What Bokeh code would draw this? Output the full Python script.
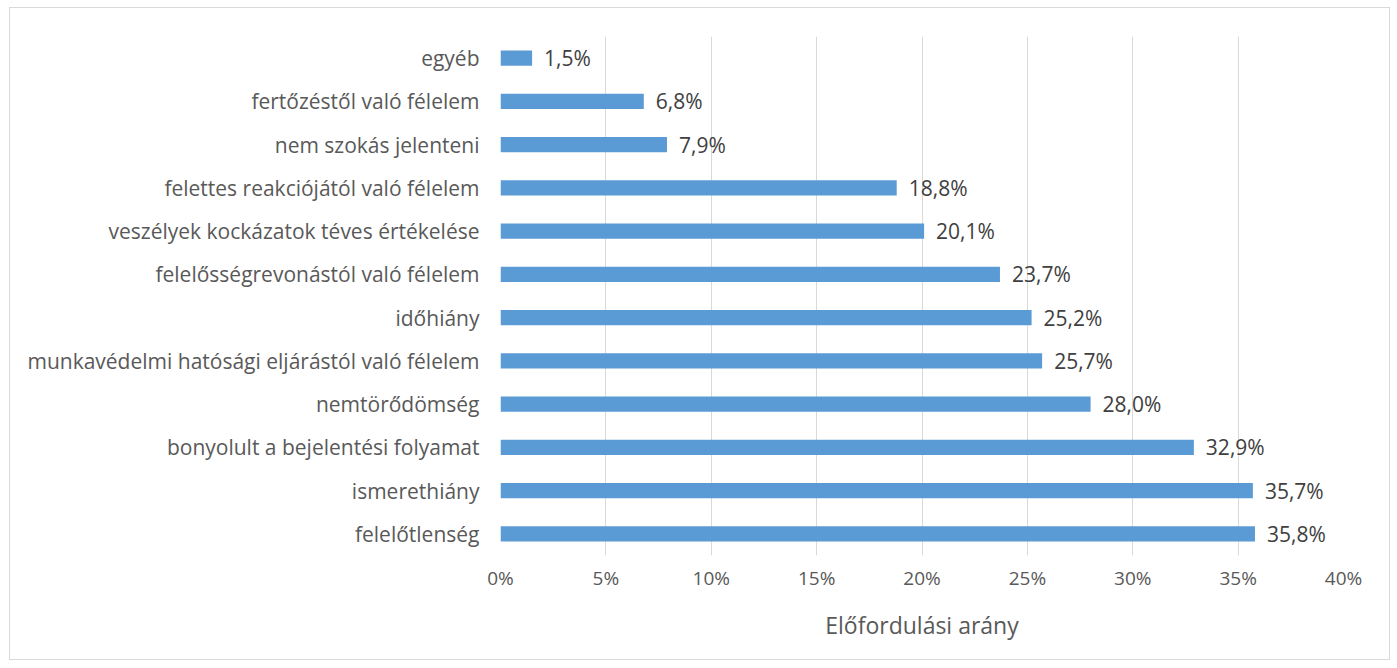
from bokeh.plotting import figure
from bokeh.models import FactorRange, FixedTicker, PrintfTickFormatter, ColumnDataSource, Range1d
from bokeh.core.properties import value
from bokeh.embed import file_html
from bokeh.resources import INLINE

categories = [
    "egyéb",
    "fertőzéstől való félelem",
    "nem szokás jelenteni",
    "felettes reakciójától való félelem",
    "veszélyek kockázatok téves értékelése",
    "felelősségrevonástól való félelem",
    "időhiány",
    "munkavédelmi hatósági eljárástól való félelem",
    "nemtörődömség",
    "bonyolult a bejelentési folyamat",
    "ismerethiány",
    "felelőtlenség",
]
values = [1.5, 6.8, 7.9, 18.8, 20.1, 23.7, 25.2, 25.7, 28.0, 32.9, 35.7, 35.8]
x_ticks = [0, 5, 10, 15, 20, 25, 30, 35, 40]
axis_title = "Előfordulási arány"

labels = [f"{v:.1f}%".replace(".", ",") for v in values]

FONT = "Open Sans"
src = ColumnDataSource(dict(cat=categories, val=values, lab=labels))

p = figure(
    width=1381, height=653,
    y_range=FactorRange(factors=list(reversed(categories)), range_padding=0),
    x_range=Range1d(0, 40),
    output_backend="svg", toolbar_location=None,
    min_border_left=490, min_border_right=48, min_border_top=28, min_border_bottom=106,
    margin=(7, 0, 0, 9),
    styles={"border": "1px solid #d9d9d9"},
)

p.hbar(y="cat", right="val", left=0, height=0.35, source=src,
       fill_color="#5B9BD5", line_color=None)
p.text(x="val", y="cat", text="lab", source=src, x_offset=12,
       text_baseline="middle", text_align="left",
       text_font=value(FONT), text_font_size="21px", text_color="#404040")

p.outline_line_color = None
p.background_fill_color = "white"
p.border_fill_color = "white"

p.ygrid.grid_line_color = None
p.xgrid.grid_line_color = "#d9d9d9"
p.xgrid.ticker = FixedTicker(ticks=x_ticks)

xa = p.xaxis[0]
xa.ticker = FixedTicker(ticks=x_ticks)
xa.formatter = PrintfTickFormatter(format="%d%%")
xa.axis_line_color = None
xa.major_tick_line_color = None
xa.minor_tick_line_color = None
xa.major_tick_out = 0
xa.major_tick_in = 0
xa.major_label_standoff = 9
xa.major_label_text_font = FONT
xa.major_label_text_font_size = "19px"
xa.major_label_text_color = "#595959"
xa.axis_label = axis_title
xa.axis_label_text_font = FONT
xa.axis_label_text_font_size = "23px"
xa.axis_label_text_font_style = "normal"
xa.axis_label_text_color = "#595959"
xa.axis_label_standoff = 15

ya = p.yaxis[0]
ya.axis_line_color = None
ya.major_tick_line_color = None
ya.minor_tick_line_color = None
ya.major_tick_out = 0
ya.major_tick_in = 0
ya.major_label_standoff = 21
ya.major_label_text_font = FONT
ya.major_label_text_font_size = "21px"
ya.major_label_text_color = "#595959"

open("out.html", "w").write(file_html(p, INLINE))
